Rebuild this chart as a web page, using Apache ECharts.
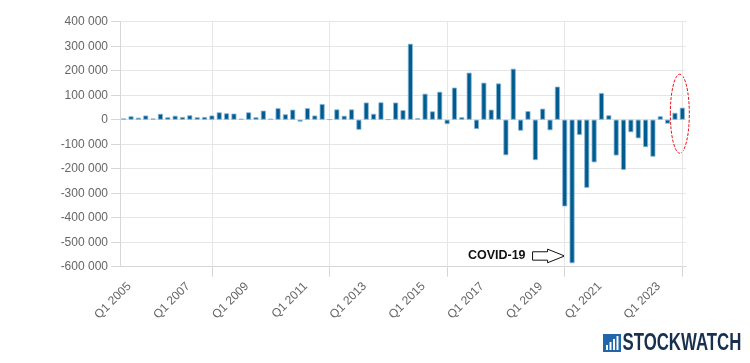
<!DOCTYPE html>
<html>
<head>
<meta charset="utf-8">
<script src="https://cdn.jsdelivr.net/npm/echarts@6/dist/echarts.min.js"></script>
<style>
html,body{margin:0;padding:0;background:#fff;}
#c{width:750px;height:363px;}
</style>
</head>
<body>
<div id="c"></div>
<script>
// Quarterly categories
const categories = [
  'Q1 2005','Q2 2005','Q3 2005','Q4 2005',
  'Q1 2006','Q2 2006','Q3 2006','Q4 2006',
  'Q1 2007','Q2 2007','Q3 2007','Q4 2007',
  'Q1 2008','Q2 2008','Q3 2008','Q4 2008',
  'Q1 2009','Q2 2009','Q3 2009','Q4 2009',
  'Q1 2010','Q2 2010','Q3 2010','Q4 2010',
  'Q1 2011','Q2 2011','Q3 2011','Q4 2011',
  'Q1 2012','Q2 2012','Q3 2012','Q4 2012',
  'Q1 2013','Q2 2013','Q3 2013','Q4 2013',
  'Q1 2014','Q2 2014','Q3 2014','Q4 2014',
  'Q1 2015','Q2 2015','Q3 2015','Q4 2015',
  'Q1 2016','Q2 2016','Q3 2016','Q4 2016',
  'Q1 2017','Q2 2017','Q3 2017','Q4 2017',
  'Q1 2018','Q2 2018','Q3 2018','Q4 2018',
  'Q1 2019','Q2 2019','Q3 2019','Q4 2019',
  'Q1 2020','Q2 2020','Q3 2020','Q4 2020',
  'Q1 2021','Q2 2021','Q3 2021','Q4 2021',
  'Q1 2022','Q2 2022','Q3 2022','Q4 2022',
  'Q1 2023','Q2 2023','Q3 2023','Q4 2023',
  'Q1 2024'
];
// Quarterly values
const values = [
  5000, 14000, 8000, 17000,
  5000, 24000, 10000, 16000,
  11000, 18000, 10000, 11000,
  17000, 30000, 26000, 25000,
  4000, 30000, 10000, 37000,
  4000, 47000, 22000, 41000,
  -8000, 47000, 17000, 64000,
  1000, 42000, 16000, 42000,
  -41000, 70000, 24000, 71000,
  1000, 70000, 39000, 310000,
  6000, 106000, 34000, 114000,
  -18000, 131000, 10000, 192000,
  -38000, 151000, 41000, 148000,
  -145000, 208000, -45000, 35000,
  -165000, 45000, -43000, 135000,
  -354000, -586000, -62000, -278000,
  -174000, 109000, 18000, -146000,
  -205000, -51000, -76000, -112000,
  -151000, 14000, -16000, 28000,
  49000
];
// Y axis ticks
const yTicks = [-600000, -500000, -400000, -300000, -200000, -100000, 0, 100000, 200000, 300000, 400000];
// Annotation
const annotationText = 'COVID-19';
const annotationCategory = 'Q2 2020';
const highlightCategory = 'Q1 2024';
const logoText = 'STOCKWATCH';

const fmt = v => {
  const s = String(Math.abs(v)).replace(/\B(?=(\d{3})+(?!\d))/g, ' ');
  return (v < 0 ? '-' : '') + s;
};

const vGridCats = categories.filter((c, i) => i % 16 === 12);

const chart = echarts.init(document.getElementById('c'), null, {renderer: 'canvas'});
const font = 'Liberation Sans, Arial, sans-serif';
chart.setOption({
  animation: false,
  grid: {left: 120, top: 21.7, width: 566, height: 245, containLabel: false},
  xAxis: {
    type: 'category',
    data: categories,
    boundaryGap: true,
    axisLine: {show: true, onZero: false, lineStyle: {color: '#d6d6d6', width: 1}},
    axisTick: {show: true, alignWithLabel: true, length: 10, interval: (i) => i % 16 === 12, lineStyle: {color: '#d6d6d6'}},
    axisLabel: {
      interval: (i) => i % 8 === 0,
      rotate: 45,
      margin: 12,
      verticalAlign: 'top',
      lineHeight: 16,
      color: '#666',
      fontSize: 12,
      fontFamily: font
    },
    splitLine: {show: false}
  },
  yAxis: {
    type: 'value',
    min: yTicks[0],
    max: yTicks[yTicks.length - 1],
    interval: 100000,
    axisLine: {show: true, lineStyle: {color: '#d6d6d6'}},
    axisTick: {show: true, length: 9, lineStyle: {color: '#d6d6d6'}},
    axisLabel: {
      margin: 12,
      color: '#666',
      fontSize: 12,
      fontFamily: font,
      formatter: fmt
    },
    splitLine: {show: true, lineStyle: {color: '#e6e6e6', width: 1}}
  },
  series: [{
    type: 'bar',
    data: values,
    barWidth: 5,
    z: 2,
    itemStyle: {color: '#005b8f', borderColor: '#8ab6d6', borderWidth: 0.8},
    emphasis: {disabled: true},
    markLine: {
      z: 1,
      silent: true,
      symbol: 'none',
      label: {show: false},
      emphasis: {disabled: true},
      lineStyle: {color: '#e6e6e6', type: 'solid', width: 1},
      data: vGridCats.map(c => ({xAxis: c}))
    }
  }]
});

// Annotation graphics positioned from the chart's own scales
const ci = categories.indexOf(annotationCategory);
const cp = chart.convertToPixel({seriesIndex: 0}, [annotationCategory, values[ci]]);
const hp = chart.convertToPixel({seriesIndex: 0}, [highlightCategory, 0]);

const tipX = cp[0] - 7.5, tipY = cp[1] - 7.3;
const arrow = [
  [tipX - 32, tipY - 4.2], [tipX - 17, tipY - 4.2], [tipX - 17, tipY - 6.8],
  [tipX, tipY], [tipX - 17, tipY + 6.8], [tipX - 17, tipY + 4.2], [tipX - 32, tipY + 4.2]
];

chart.setOption({
  graphic: [
    {
      type: 'text',
      x: tipX - 39, y: tipY,
      style: {text: annotationText, font: 'bold 12.5px Liberation Sans, Arial', fill: '#111', align: 'right', verticalAlign: 'middle'}
    },
    {
      type: 'polygon',
      shape: {points: arrow},
      style: {fill: '#fff', stroke: '#111', lineWidth: 1}
    },
    {
      type: 'ellipse',
      shape: {cx: hp[0] - 2.5, cy: hp[1] - 6, rx: 9.5, ry: 39.5},
      style: {fill: 'none', stroke: '#e8141b', lineWidth: 1, lineDash: [3, 1.5]}
    },
    {
      type: 'group', x: 603, y: 334,
      children: [
        {type: 'rect', shape: {x: 0, y: 0, width: 18, height: 18}, style: {fill: '#1f66aa'}},
        {type: 'rect', shape: {x: 3, y: 11, width: 2, height: 5}, style: {fill: '#fff'}},
        {type: 'rect', shape: {x: 6.5, y: 8, width: 2, height: 8}, style: {fill: '#fff'}},
        {type: 'rect', shape: {x: 10, y: 5, width: 2, height: 11}, style: {fill: '#fff'}},
        {type: 'rect', shape: {x: 13.5, y: 2, width: 2, height: 14}, style: {fill: '#fff'}},
        {type: 'text', x: 19.5, y: 9.5, scaleX: 0.7, style: {text: logoText, font: '900 24px Liberation Sans, Arial', fill: '#17304f', verticalAlign: 'middle'}}
      ]
    }
  ]
});
</script>
</body>
</html>
